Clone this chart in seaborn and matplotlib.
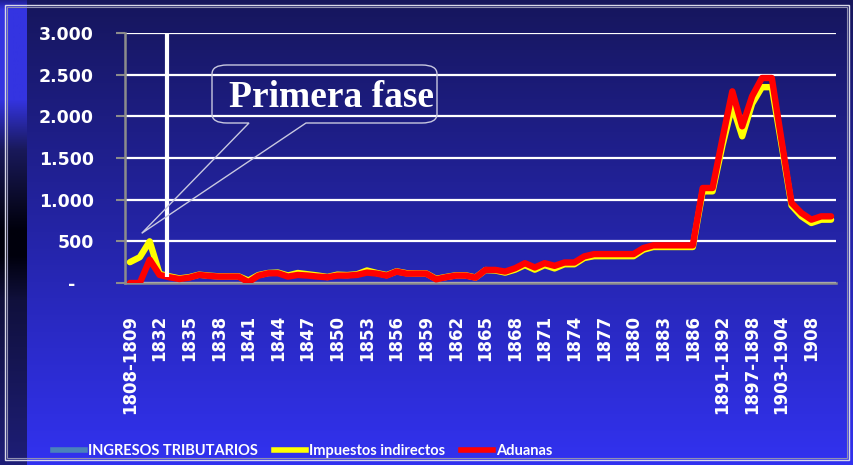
import numpy as np
import pandas as pd
import seaborn as sns
import matplotlib.pyplot as plt
import matplotlib.transforms as mtransforms
from matplotlib.path import Path
from matplotlib.patches import PathPatch, Rectangle
from matplotlib.lines import Line2D

# Periods on the category axis (only every third one is labelled)
periods = (["1808-1809", "1810-1819", "1820-1831"]
           + [str(y) for y in range(1832, 1887)]
           + ["1887-1888", "1889-1890", "1891-1892", "1893-1894", "1895-1896",
              "1897-1898", "1899-1900", "1901-1902", "1903-1904", "1905-1906",
              "1907", "1908", "1909", "1910"])

# Impuestos indirectos (yellow)
indirectos = [250, 310, 500, 110, 80, 55, 70, 100, 88, 80, 80, 80, 30, 95, 120, 125,
              90, 120, 105, 90, 72, 100, 95, 105, 150, 120, 95, 140, 118, 115, 115, 50,
              72, 92, 92, 66, 155, 150, 125, 160, 215, 160, 215, 175, 225, 225, 300, 322,
              322, 322, 322, 322, 400, 432, 432, 432, 432, 432, 1100, 1100, 1650, 2130,
              1760, 2150, 2350, 2350, 1650, 930, 800, 720, 760, 760]

# Aduanas (red)
aduanas = [0, 0, 280, 97, 69, 48, 64, 97, 85, 77, 77, 77, 10, 88, 117, 117,
           77, 97, 89, 77, 69, 89, 89, 97, 125, 113, 89, 137, 113, 113, 113, 44,
           69, 89, 89, 64, 157, 157, 137, 177, 238, 186, 238, 206, 246, 246, 319, 347,
           347, 347, 347, 347, 420, 452, 452, 452, 452, 452, 1140, 1140, 1730, 2300,
           1880, 2240, 2460, 2460, 1700, 960, 840, 760, 800, 800]

y_ticks = [0, 500, 1000, 1500, 2000, 2500, 3000]
y_ticklabels = ["-   ", "500", "1.000", "1.500", "2.000", "2.500", "3.000"]

PHASE_X = 3.72  # white marker line "Primera fase"

W, H = 854, 465
fig = plt.figure(figsize=(W / 100, H / 100), dpi=100)

# slide-like gradient background
bg = fig.add_axes([0, 0, 1, 1], zorder=-10)
top = np.array([22, 22, 92]) / 255
bot = np.array([50, 50, 240]) / 255
t = np.linspace(0, 1, 256)[:, None]
grad = top + (bot - top) * t
img = np.repeat(grad[:, None, :], 2, axis=1)
bg.imshow(img, aspect="auto", extent=[0, W, H, 0])
# left decorative strip
strip_y = [0, 10, 100, 150, 200, 230, 255, 300, 465]
strip_c = [(30, 30, 140), (52, 52, 225), (52, 52, 225), (25, 25, 90), (10, 10, 40),
           (0, 0, 12), (0, 0, 12), (16, 16, 60), (30, 30, 120)]
yy = np.arange(H)
sc = np.stack([np.interp(yy, strip_y, [c[k] for c in strip_c]) for k in range(3)], axis=1) / 255
bg.imshow(sc[:, None, :], aspect="auto", extent=[0, 27, H, 0])
bg.add_patch(Rectangle((5, 5), W - 10, H - 10, fill=False, ec="#d8d8e8", lw=1))
bg.add_patch(Rectangle((7, 7), W - 14, H - 14, fill=False, ec="#9090b0", lw=0.8))
bg.set_xlim(0, W)
bg.set_ylim(H, 0)
bg.axis("off")

ax = fig.add_axes([125 / W, 1 - 283 / H, 711 / W, 250 / H])
ax.set_facecolor("none")

df = pd.DataFrame({"Periodo": periods,
                   "Impuestos indirectos": indirectos,
                   "Aduanas": aduanas})

line_kw = dict(lw=4.6, solid_joinstyle="round", solid_capstyle="round", sort=False)
sns.lineplot(data=df, x="Periodo", y="Impuestos indirectos", color="#ffff00", ax=ax, zorder=3, **line_kw)
sns.lineplot(data=df, x="Periodo", y="Aduanas", color="#ff0000", ax=ax, zorder=4, **line_kw)

ax.vlines(PHASE_X, 73, 3000, color="white", lw=3, zorder=5)

ax.set_xlim(-0.5, len(periods) - 0.5)
ax.set_ylim(0, 3000)
ax.set_yticks(y_ticks)
ax.set_yticklabels(y_ticklabels)
ax.set_xticks(range(len(periods)))
ax.set_xticklabels([p if i % 3 == 0 else "" for i, p in enumerate(periods)], rotation=90)
ax.grid(axis="y", color="white", lw=1.6)
ax.grid(axis="x", visible=False)
ax.set_axisbelow(True)
for s in ["top", "right"]:
    ax.spines[s].set_visible(False)
for s in ["left", "bottom"]:
    ax.spines[s].set_color("#8c8c8c")
    ax.spines[s].set_linewidth(1.8)
    ax.spines[s].set_zorder(2)
ax.tick_params(axis="y", length=6.5, width=1.5, color="#8c8c8c", pad=16,
               labelcolor="white", labelsize=12.5)
ax.tick_params(axis="x", length=0, pad=23, labelcolor="white", labelsize=12)
for lab in ax.get_xticklabels() + ax.get_yticklabels():
    lab.set_fontweight("bold")
    lab.set_family("DejaVu Sans")
ax.set_xlabel("")
ax.set_ylabel("")

# callout "Primera fase"
px = mtransforms.Affine2D().scale(1 / W, -1 / H).translate(0, 1) + fig.transFigure
x0, x1, y0, y1, r, rv = 212, 437, 65, 123, 15, 9
tip = (141.7, 233.3)
verts = [(x0 + r, y0), (x1 - r, y0), (x1, y0), (x1, y0 + rv), (x1, y1 - rv),
         (x1, y1), (x1 - r, y1), (306, y1), tip, (249, y1), (x0 + r, y1),
         (x0, y1), (x0, y1 - rv), (x0, y0 + rv), (x0, y0), (x0 + r, y0), (x0 + r, y0)]
codes = [Path.MOVETO, Path.LINETO, Path.CURVE3, Path.CURVE3, Path.LINETO,
         Path.CURVE3, Path.CURVE3, Path.LINETO, Path.LINETO, Path.LINETO, Path.LINETO,
         Path.CURVE3, Path.CURVE3, Path.LINETO, Path.CURVE3, Path.CURVE3, Path.CLOSEPOLY]
fig.patches.append(PathPatch(Path(verts, codes), transform=px, fc="none",
                             ec="#c8c8e0", lw=1.0, zorder=6))
fig.text(332, 107, "Primera fase", transform=px, ha="center", va="baseline",
         fontsize=27, fontweight="bold", family="Liberation Serif", color="white")

handles = [Line2D([], [], color="#4a82bb", lw=4.0),
           Line2D([], [], color="#ffff00", lw=4.0),
           Line2D([], [], color="#ff0000", lw=4.0)]
leg = fig.legend(handles, ["INGRESOS TRIBUTARIOS", "Impuestos indirectos", "Aduanas"],
                 loc="center", bbox_to_anchor=(303 / W, 1 - 451 / H), ncol=3,
                 frameon=False, handlelength=2.2, handletextpad=0.2,
                 columnspacing=1.1, prop={"family": ["Lato", "DejaVu Sans"],
                                          "weight": "bold", "size": 10.5})
for txt in leg.get_texts():
    txt.set_color("white")

fig.savefig("out.png", dpi=100)
